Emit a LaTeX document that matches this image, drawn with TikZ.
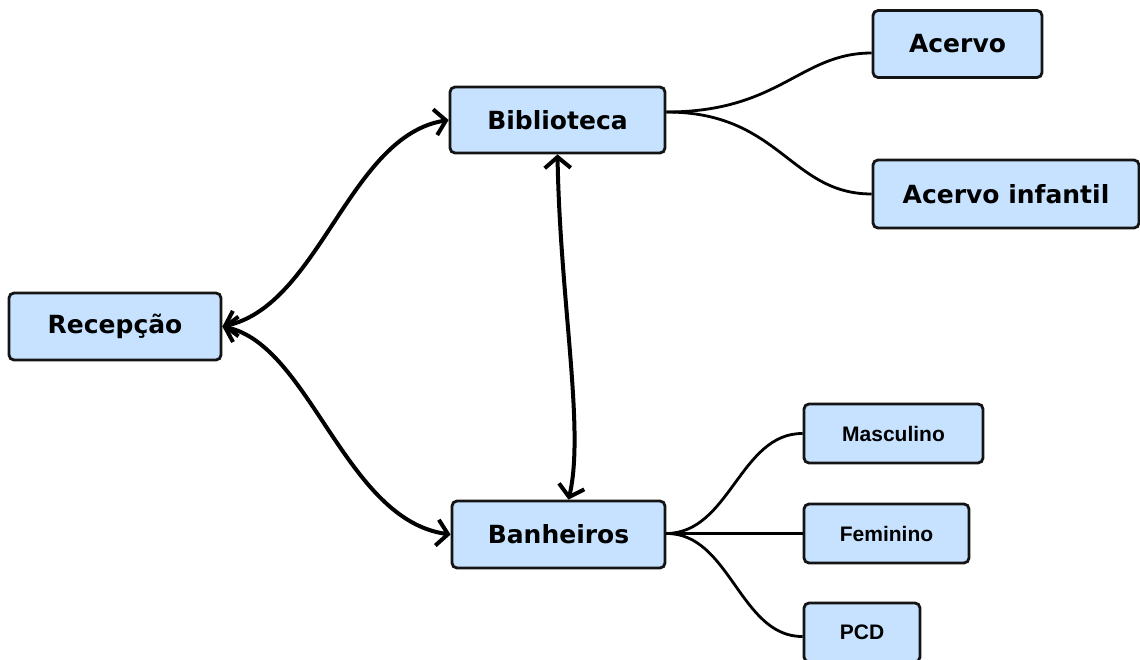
\documentclass[tikz,border=0pt]{standalone}
\usepackage{fontspec}
\setmainfont{DejaVu Sans}
\newfontfamily\smallf{Liberation Sans}
\usetikzlibrary{arrows.meta}
\definecolor{boxfill}{RGB}{198,226,255}
\definecolor{boxdraw}{RGB}{20,20,20}
\tikzset{
  bigbox/.style={draw=boxdraw, fill=boxfill, line width=2.8pt, rounded corners=5pt,
    inner sep=0pt, font=\fontsize{25}{29}\selectfont\bfseries},
  smallbox/.style={draw=boxdraw, fill=boxfill, line width=2.8pt, rounded corners=5pt,
    inner sep=0pt, font=\smallf\fontsize{21}{25}\selectfont\bfseries},
  biarrow/.style={line width=4pt, {Straight Barb[length=11pt,width=26pt]}-{Straight Barb[length=11pt,width=26pt]}},
  branch/.style={line width=2.8pt}
}
\begin{document}
\begin{tikzpicture}[x=1pt,y=-1pt]
\useasboundingbox (0,0) rectangle (1140,659);
\fill[white] (0,0) rectangle (1140,659);
\node[bigbox, minimum width=212pt, minimum height=67pt] (rec) at (115,326.5) {Recepção};
\node[bigbox, minimum width=215pt, minimum height=66pt] (bib) at (557.5,120) {Biblioteca};
\node[bigbox, minimum width=213pt, minimum height=67pt] (ban) at (558.5,534.5) {Banheiros};
\node[bigbox, minimum width=169pt, minimum height=67pt] (acv) at (957.5,44) {Acervo};
\node[bigbox, minimum width=266pt, minimum height=68pt] (acvi) at (1006,194) {Acervo infantil};
\node[smallbox, minimum width=179pt, minimum height=59pt] (masc) at (893.5,433.5) {Masculino};
\node[smallbox, minimum width=165pt, minimum height=59pt] (fem) at (886.5,533.5) {Feminino};
\node[smallbox, minimum width=116pt, minimum height=59pt] (pcd) at (862,632.5) {PCD};
% thick bidirectional connectors
\draw[biarrow] (rec.east) .. controls (320,305) and (349,136) .. (bib.west);
\draw[biarrow] (rec.east) .. controls (310,345) and (345,520) .. (ban.west);
\draw[biarrow] (bib.south) .. controls (560,300) and (585,430) .. ([xshift=10pt]ban.north);
% thin branches
\draw[branch] ([yshift=8pt]bib.east) .. controls (780,112) and (800,53) .. ([yshift=-9pt]acv.west);
\draw[branch] ([yshift=8pt]bib.east) .. controls (780,112) and (790,194) .. (acvi.west);
\draw[branch] ([yshift=1pt]ban.east) .. controls (730,533) and (740,433) .. (masc.west);
\draw[branch] ([yshift=1pt]ban.east) -- (fem.west);
\draw[branch] ([yshift=1pt]ban.east) .. controls (730,533) and (740,637) .. ([yshift=-4pt]pcd.west);
\end{tikzpicture}
\end{document}
